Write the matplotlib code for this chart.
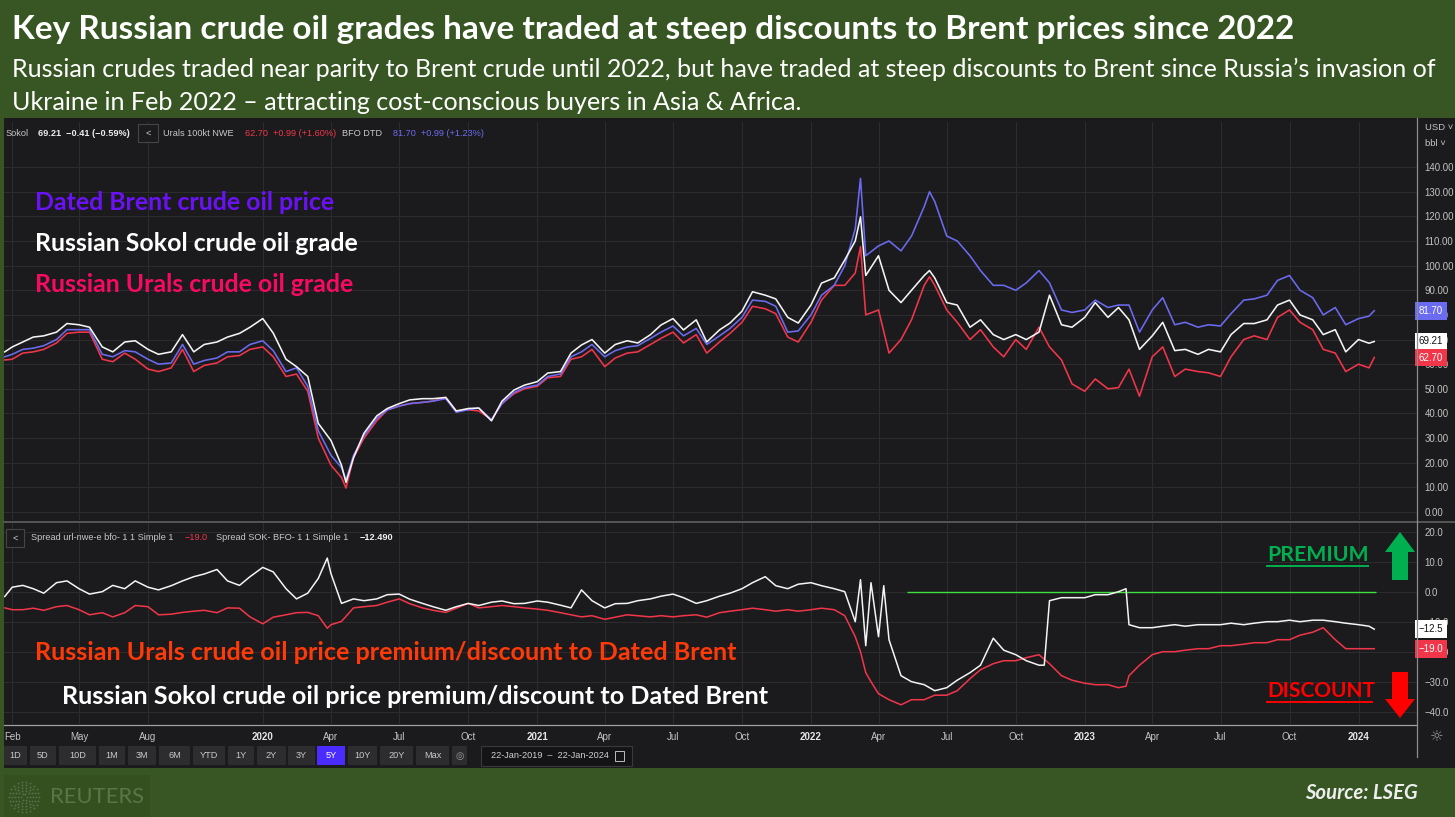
import matplotlib
matplotlib.use('Agg')
import matplotlib.pyplot as plt
import matplotlib.transforms as mtransforms
from matplotlib.patches import Rectangle, Polygon
from matplotlib.lines import Line2D
from matplotlib.ticker import FuncFormatter
import numpy as np
import pandas as pd

# ---- data ----
price_dates = [
    '2019-01-22', '2019-02-01', '2019-02-15', '2019-03-01', '2019-03-15', '2019-04-01', '2019-04-15', '2019-05-01', '2019-05-15', '2019-06-01',
    '2019-06-15', '2019-07-01', '2019-07-15', '2019-08-01', '2019-08-15', '2019-09-01', '2019-09-16', '2019-10-01', '2019-10-15', '2019-11-01',
    '2019-11-15', '2019-12-01', '2019-12-15', '2020-01-01', '2020-01-15', '2020-02-01', '2020-02-15', '2020-03-01', '2020-03-15', '2020-04-01',
    '2020-04-15', '2020-04-21', '2020-05-01', '2020-05-15', '2020-06-01', '2020-06-15', '2020-07-01', '2020-07-15', '2020-08-01', '2020-08-15',
    '2020-09-01', '2020-09-15', '2020-10-01', '2020-10-15', '2020-11-01', '2020-11-15', '2020-12-01', '2020-12-15', '2021-01-01', '2021-01-15',
    '2021-02-01', '2021-02-15', '2021-03-01', '2021-03-15', '2021-04-01', '2021-04-15', '2021-05-01', '2021-05-15', '2021-06-01', '2021-06-15',
    '2021-07-01', '2021-07-15', '2021-08-01', '2021-08-15', '2021-09-01', '2021-09-15', '2021-10-01', '2021-10-15', '2021-11-01', '2021-11-15',
    '2021-12-01', '2021-12-15', '2022-01-01', '2022-01-15', '2022-02-01', '2022-02-15', '2022-03-01', '2022-03-08', '2022-03-15', '2022-04-01',
    '2022-04-15', '2022-05-01', '2022-05-15', '2022-06-01', '2022-06-08', '2022-06-15', '2022-07-01', '2022-07-15', '2022-08-01', '2022-08-15',
    '2022-09-01', '2022-09-15', '2022-10-01', '2022-10-15', '2022-11-01', '2022-11-15', '2022-12-01', '2022-12-15', '2023-01-01', '2023-01-15',
    '2023-02-01', '2023-02-15', '2023-03-01', '2023-03-15', '2023-04-01', '2023-04-15', '2023-05-01', '2023-05-15', '2023-06-01', '2023-06-15',
    '2023-07-01', '2023-07-15', '2023-08-01', '2023-08-15', '2023-09-01', '2023-09-15', '2023-10-01', '2023-10-15', '2023-11-01', '2023-11-15',
    '2023-12-01', '2023-12-15', '2024-01-01', '2024-01-15', '2024-01-22',
]
brent = [
    63, 64, 66, 66.5, 67.5, 70, 74, 74, 74, 64,
    63, 65.5, 65, 62, 60, 60.5, 68, 60, 61.5, 62.5,
    65, 65, 68, 69.5, 65.5, 57, 58.5, 51, 33, 23,
    18, 13, 23, 31, 38, 41.4, 43, 44, 44.5, 45,
    46, 40.5, 41.5, 42.2, 37.5, 44, 48.5, 50.5, 51.5, 55,
    56, 63, 65, 68, 63, 65.5, 67, 67.5, 70.5, 73,
    75.5, 71.5, 74.5, 68, 71.5, 74.5, 79, 86, 85.5, 83.5,
    73, 73.5, 80, 88, 92, 100, 115, 135.4, 104, 108,
    110, 106, 112, 124, 130, 126, 112, 110, 104, 98,
    92, 92, 90, 93, 98, 93, 82, 81, 82, 86,
    83, 84, 84, 73, 82, 87, 76, 77, 75, 76,
    75.5, 80.5, 86, 86.5, 88, 94, 96, 90, 87, 80,
    83, 76, 78.5, 79.5, 81.7,
]
sokol = [
    65, 67, 69, 71, 71.5, 73, 76.5, 76, 75, 67,
    65, 69, 69.5, 66, 64, 65, 72, 65, 68, 69,
    71, 72.5, 75, 78.5, 72.6, 62, 59, 55, 36, 29,
    19, 12, 22, 32, 39, 42, 44, 45.5, 46, 46,
    46.5, 41, 42, 42.2, 37, 45, 49.5, 51.5, 52.9, 56.4,
    57, 64.5, 67.8, 70, 64.5, 68, 69.5, 68.6, 72, 75.9,
    78.5, 73.9, 78, 69, 73.9, 76.7, 81.5, 89.4, 88, 86.5,
    79, 76.7, 84, 92.9, 95, 102.3, 110, 119.8, 96, 104,
    90, 85, 90, 96, 98, 95, 85, 84, 75, 78,
    72, 70, 72, 70, 73, 88, 76, 75, 79, 85,
    79, 83, 78, 66, 71.5, 77, 65.5, 66, 64, 66,
    65, 72, 76.5, 76.5, 78, 84, 86, 80, 78, 72,
    74, 65, 70, 68.5, 69.21,
]
urals = [
    61.7, 62, 64.5, 65, 66, 68.6, 72.5, 73, 73, 62,
    61, 64.5, 62, 58, 57, 58.5, 66, 57, 59.5, 60.5,
    63, 63.5, 66, 67, 63, 55, 56, 49, 30, 19,
    14, 9.7, 22, 30, 37, 41.4, 43, 44, 44.5, 45,
    46.5, 41, 41.5, 41, 37.5, 44, 48, 50, 51, 54.5,
    55, 62, 63, 66, 59, 62.5, 64.5, 65, 68, 70.5,
    73, 68.6, 72, 64.5, 69, 72.5, 77, 83.5, 82.5, 80.5,
    71, 69, 77, 86, 92, 92, 97, 107.7, 80, 82,
    64.5, 70, 78, 92, 95.5, 92, 82, 77, 70, 74,
    67, 63, 70, 66, 75, 67, 61.7, 52, 49, 54,
    50, 50.5, 58, 47, 63, 67, 55, 58, 57, 56.5,
    55, 63, 70, 71.5, 70, 79, 82, 77, 74, 66,
    64.5, 57, 60, 58.5, 62.7,
]

spread_dates = [
    '2019-01-22', '2019-02-01', '2019-02-15', '2019-03-01', '2019-03-15', '2019-04-01', '2019-04-15', '2019-05-01', '2019-05-15', '2019-06-01',
    '2019-06-15', '2019-07-01', '2019-07-15', '2019-08-01', '2019-08-15', '2019-09-01', '2019-09-16', '2019-10-01', '2019-10-15', '2019-11-01',
    '2019-11-15', '2019-12-01', '2019-12-15', '2020-01-01', '2020-01-15', '2020-02-01', '2020-02-15', '2020-03-01', '2020-03-15', '2020-03-27',
    '2020-04-01', '2020-04-15', '2020-05-01', '2020-05-15', '2020-06-01', '2020-06-15', '2020-07-01', '2020-07-15', '2020-08-01', '2020-08-15',
    '2020-09-01', '2020-09-15', '2020-10-01', '2020-10-15', '2020-11-01', '2020-11-15', '2020-12-01', '2020-12-15', '2021-01-01', '2021-01-15',
    '2021-02-01', '2021-02-15', '2021-03-01', '2021-03-15', '2021-04-01', '2021-04-15', '2021-05-01', '2021-05-15', '2021-06-01', '2021-06-15',
    '2021-07-01', '2021-07-15', '2021-08-01', '2021-08-15', '2021-09-01', '2021-09-15', '2021-10-01', '2021-10-15', '2021-11-01', '2021-11-15',
    '2021-12-01', '2021-12-15', '2022-01-01', '2022-01-15', '2022-02-01', '2022-02-15', '2022-03-01', '2022-03-08', '2022-03-15', '2022-03-22',
    '2022-04-01', '2022-04-08', '2022-04-15', '2022-05-01', '2022-05-15', '2022-06-01', '2022-06-15', '2022-07-01', '2022-07-15', '2022-08-01',
    '2022-08-15', '2022-09-01', '2022-09-15', '2022-10-01', '2022-10-15', '2022-11-01', '2022-11-08', '2022-11-15', '2022-12-01', '2022-12-15',
    '2023-01-01', '2023-01-15', '2023-02-01', '2023-02-15', '2023-02-25', '2023-03-01', '2023-03-15', '2023-04-01', '2023-04-15', '2023-05-01',
    '2023-05-15', '2023-06-01', '2023-06-15', '2023-07-01', '2023-07-15', '2023-08-01', '2023-08-15', '2023-09-01', '2023-09-15', '2023-10-01',
    '2023-10-15', '2023-11-01', '2023-11-15', '2023-12-01', '2023-12-15', '2024-01-01', '2024-01-15', '2024-01-22',
]
sokol_spread = [
    -1.6, 1.5, 2.1, 1, -0.5, 3, 3.6, 1, -0.8, 0,
    2.1, 1, 3.6, 1.5, 0.6, 2, 3.6, 5, 5.9, 7.4,
    3.6, 2.1, 5, 8.1, 6.6, 1, -2.4, -0.5, 4.4, 11.2,
    6, -3.9, -2.4, -3, -2.4, -1, -0.8, -2.5, -3.9, -5,
    -6.2, -5, -3.9, -4.6, -3.5, -3.1, -4, -3.9, -3.1, -3.5,
    -4.5, -5.4, 0.6, -3, -5.4, -4, -3.9, -3, -2.4, -1.5,
    -0.8, -2, -3.9, -3, -1.5, -0.5, 1, 3, 5, 2,
    1, 2.5, 3, 2, 1, 0, -10, 4, -18, 3,
    -15, 2, -16, -28, -30, -31, -33, -32, -29.5, -27,
    -24.5, -15.5, -19.5, -21, -23, -24.5, -24.5, -3, -2, -2,
    -2, -1, -1, 0, 1, -11, -12, -12, -11.5, -11,
    -11.5, -11, -11, -11, -10.5, -11, -10.5, -10, -10, -9.5,
    -10, -9.5, -9.5, -10, -10.5, -11, -11.5, -12.49,
]
urals_spread = [
    -5.4, -6, -6, -5.5, -6.2, -5, -4.6, -6, -7.7, -7,
    -8.4, -7, -4.6, -5, -7.7, -7.5, -6.9, -6.5, -6.2, -7,
    -5.4, -5.5, -8.4, -10.7, -8.5, -7.7, -7, -6.9, -8, -12.2,
    -11, -9.9, -5.4, -5, -4.6, -3.5, -2.4, -4, -5.4, -6.2,
    -6.9, -5.5, -3.9, -5.4, -5, -4.6, -5, -5.4, -5.8, -6.2,
    -7, -7.7, -8.4, -8, -9.2, -8.5, -7.7, -8, -8.4, -8,
    -8.4, -8, -7.7, -8.5, -7, -6.5, -6, -5.5, -6, -6.5,
    -6, -6.5, -6, -5.5, -6, -8, -15, -20, -27, -30,
    -34, -35, -36, -37.7, -36, -36, -34.5, -34.5, -33, -29,
    -26, -24, -23, -23, -22, -21, -22.5, -24, -28, -29.5,
    -30.5, -31, -31, -32, -31.5, -28, -24.5, -21, -20, -20,
    -19.5, -19, -19, -18, -18, -17.5, -17, -17, -16, -16,
    -14.5, -13.5, -12, -16, -19, -19, -19, -19,
]
parity_from, parity_to = '2022-05-09', '2024-01-24'

tick_dates = ['2019-02-01', '2019-05-01', '2019-08-01', '2020-01-01', '2020-04-01', '2020-07-01', '2020-10-01',
              '2021-01-01', '2021-04-01', '2021-07-01', '2021-10-01', '2022-01-01', '2022-04-01', '2022-07-01',
              '2022-10-01', '2023-01-01', '2023-04-01', '2023-07-01', '2023-10-01', '2024-01-01']
tick_labels = ['Feb', 'May', 'Aug', '2020', 'Apr', 'Jul', 'Oct', '2021', 'Apr', 'Jul', 'Oct', '2022', 'Apr', 'Jul',
               'Oct', '2023', 'Apr', 'Jul', 'Oct', '2024']

# ---- style ----
W, H = 1455, 817
GREEN = '#375623'
DARK = '#1b1b1d'
GRID = '#2c2c2f'
BRENT_C = '#6b6bf2'
SOKOL_C = '#f4f4f4'
URALS_C = '#f2364a'
UI = ['Liberation Sans', 'DejaVu Sans']
plt.rcParams['font.family'] = ['Lato', 'DejaVu Sans']


def fx(px):
    return px / W


def fy(py):
    return 1 - py / H


fig = plt.figure(figsize=(W / 100, H / 100), dpi=100, facecolor=GREEN)
fig.add_artist(Rectangle((fx(4), fy(768)), (W - 4) / W, 650 / H, transform=fig.transFigure,
                         facecolor=DARK, edgecolor='none', zorder=0))

# title block
fig.text(fx(12), fy(29), 'Key Russian crude oil grades have traded at steep discounts to Brent prices since 2022',
         fontsize=24, weight='bold', color='white', va='center')
fig.text(fx(12), fy(69), 'Russian crudes traded near parity to Brent crude until 2022, but have traded at steep discounts to Brent since Russia\u2019s invasion of',
         fontsize=18.1, color='white', va='center')
fig.text(fx(12), fy(102), 'Ukraine in Feb 2022 \u2013 attracting cost-conscious buyers in Asia & Africa.',
         fontsize=18.1, color='white', va='center')

xmin, xmax = pd.Timestamp('2019-01-21'), pd.Timestamp('2024-03-19')
pd_dates = pd.to_datetime(price_dates)
sp_dates = pd.to_datetime(spread_dates)
ticks = pd.to_datetime(tick_dates)

ax1 = fig.add_axes([fx(4), fy(520), 1413 / W, 398 / H])
ax2 = fig.add_axes([fx(4), fy(724), 1413 / W, 202 / H])
for ax in (ax1, ax2):
    ax.set_facecolor(DARK)
    for s in ax.spines.values():
        s.set_visible(False)
    ax.set_xlim(xmin, xmax)
    ax.set_xticks(ticks)
    ax.grid(True, color=GRID, lw=0.8)
    ax.set_axisbelow(True)
    ax.yaxis.tick_right()
    ax.tick_params(length=0, labelsize=6.9, labelcolor='#c4c4c4', pad=5.5)

# price panel
ax1.plot(pd_dates, urals, color=URALS_C, lw=1.15, zorder=3)
ax1.plot(pd_dates, brent, color=BRENT_C, lw=1.15, zorder=4)
ax1.plot(pd_dates, sokol, color=SOKOL_C, lw=1.15, zorder=5)
ax1.set_ylim(-3.25, 158.3)
ax1.set_yticks(np.arange(0, 150, 10))
ax1.yaxis.set_major_formatter(FuncFormatter(lambda v, p: f'{v:.2f}'))
ax1.set_xticklabels([])

# spread panel
ax2.plot(sp_dates, urals_spread, color=URALS_C, lw=1.1, zorder=3)
ax2.plot(sp_dates, sokol_spread, color=SOKOL_C, lw=1.1, zorder=4)
ax2.hlines(0, pd.Timestamp(parity_from), pd.Timestamp(parity_to), color='#3fe03f', lw=1, zorder=2)
ax2.set_ylim(-44.1, 23.23)
ax2.set_yticks(np.arange(-40, 21, 10))
ax2.yaxis.set_major_formatter(FuncFormatter(lambda v, p: f'{v:.1f}'.replace('-', '\u2212')))
ax2.set_xticklabels(tick_labels)
ax2.tick_params(axis='x', pad=6, labelsize=7)
for lab in ax2.get_xticklabels():
    lab.set_fontfamily(UI)
    if lab.get_text().isdigit():
        lab.set_color('#e6e6e6')
        lab.set_fontweight('bold')
for ax in (ax1, ax2):
    for lab in ax.get_yticklabels():
        lab.set_fontfamily(UI)


# value badges on the right scale
def badge(ax, yval, text, fc, tc):
    tr = mtransforms.blended_transform_factory(ax.transAxes, ax.transData)
    ax.text(1.0012, yval, text, transform=tr, fontsize=7, family=UI, color=tc, va='center', ha='left',
            bbox=dict(boxstyle='square,pad=0.4', fc=fc, ec='none'), clip_on=False, zorder=10)


badge(ax1, brent[-1], f'{brent[-1]:.2f}', BRENT_C, 'white')
badge(ax1, sokol[-1], f'{sokol[-1]:.2f}', 'white', '#111111')
badge(ax1, urals[-1], f'{urals[-1]:.2f}', URALS_C, 'white')
badge(ax2, sokol_spread[-1], f'{sokol_spread[-1]:.1f}'.replace('-', '\u2212'), 'white', '#111111')
badge(ax2, urals_spread[-1], f'{urals_spread[-1]:.1f}'.replace('-', '\u2212'), URALS_C, 'white')

# frame lines
fig.add_artist(Line2D([fx(4), fx(W)], [fy(521.5)] * 2, color='#5a5a5a', lw=1.3, transform=fig.transFigure))
fig.add_artist(Line2D([fx(4), fx(1417)], [fy(725)] * 2, color='#a0a0a0', lw=0.9, transform=fig.transFigure))
fig.add_artist(Line2D([fx(1417)] * 2, [fy(118), fy(757)], color='#8c8c8c', lw=0.9, transform=fig.transFigure))

fig.text(fx(1425), fy(128), 'USD \u02c5', fontsize=6.8, color='#c4c4c4', family=UI, va='center')
fig.text(fx(1425), fy(143), 'bbl \u02c5', fontsize=6.8, color='#c4c4c4', family=UI, va='center')
fig.text(fx(1437), fy(737), '\u263c', fontsize=11, color='#9a9a9a', family='DejaVu Sans', va='center', ha='center')


# header rows
def box(x0, y0, x1, y1, fc, ec='none', lw=0.8):
    fig.add_artist(Rectangle((fx(x0), fy(y1)), (x1 - x0) / W, (y1 - y0) / H, transform=fig.transFigure,
                             facecolor=fc, edgecolor=ec, lw=lw, zorder=5))


def ui_text(x, y, s, color='#c8c8c8', size=6.6, **kw):
    fig.text(fx(x), fy(y), s, fontsize=size, color=color, family=UI, va='center', zorder=6, **kw)


ui_text(6, 133, 'Sokol')
ui_text(38, 133, '69.21  \u22120.41 (\u22120.59%)', color='#ececec', weight='bold')
box(138, 124, 158, 142, DARK, '#454545')
ui_text(148, 133, '<', color='#d0d0d0', ha='center')
ui_text(163, 133, 'Urals 100kt NWE')
ui_text(245, 133, '62.70  +0.99 (+1.60%)', color=URALS_C)
ui_text(342, 133, 'BFO DTD')
ui_text(393, 133, '81.70  +0.99 (+1.23%)', color=BRENT_C)

box(6, 529, 24, 547, DARK, '#454545')
ui_text(15, 538, '<', color='#d0d0d0', ha='center')
ui_text(31, 538, 'Spread url-nwe-e bfo- 1 1 Simple 1')
ui_text(185, 538, '\u221219.0', color=URALS_C)
ui_text(216, 538, 'Spread SOK- BFO- 1 1 Simple 1')
ui_text(360, 538, '\u221212.490', color='#f0f0f0', weight='bold')

# series labels
fig.text(fx(35), fy(202), 'Dated Brent crude oil price', fontsize=17.9, weight='bold', color='#6a12f5', va='center')
fig.text(fx(35), fy(243), 'Russian Sokol crude oil grade', fontsize=17.9, weight='bold', color='white', va='center')
fig.text(fx(35), fy(284), 'Russian Urals crude oil grade', fontsize=17.9, weight='bold', color='#f80a62', va='center')
fig.text(fx(35), fy(652), 'Russian Urals crude oil price premium/discount to Dated Brent', fontsize=18.1,
         weight='bold', color='#ff3a08', va='center')
fig.text(fx(62), fy(697), 'Russian Sokol crude oil price premium/discount to Dated Brent', fontsize=18.1,
         weight='bold', color='white', va='center')

fig.text(fx(1267), fy(555), 'PREMIUM', fontsize=15.3, weight='bold', color='#00b050', va='center')
fig.add_artist(Line2D([fx(1267), fx(1368)], [fy(566)] * 2, color='#00b050', lw=1.4, transform=fig.transFigure))
fig.text(fx(1267), fy(691), 'DISCOUNT', fontsize=15, weight='bold', color='#ff0000', va='center')
fig.add_artist(Line2D([fx(1267), fx(1372)], [fy(702)] * 2, color='#ff0000', lw=1.4, transform=fig.transFigure))

up = [(1392, 580), (1392, 552), (1385, 552), (1400, 532), (1415, 552), (1408, 552), (1408, 580)]
down = [(1392, 672), (1392, 699), (1385, 699), (1400, 718), (1415, 699), (1408, 699), (1408, 672)]
fig.add_artist(Polygon([(fx(a), fy(b)) for a, b in up], closed=True, transform=fig.transFigure,
                       facecolor='#00b050', edgecolor='none', zorder=6))
fig.add_artist(Polygon([(fx(a), fy(b)) for a, b in down], closed=True, transform=fig.transFigure,
                       facecolor='#ff0000', edgecolor='none', zorder=6))

# toolbar
buttons = [('1D', 4, 27), ('5D', 30, 56), ('10D', 59, 96), ('1M', 99, 125), ('3M', 128, 156), ('6M', 159, 190),
           ('YTD', 193, 225), ('1Y', 228, 254), ('2Y', 257, 286), ('3Y', 288, 315), ('5Y', 317, 345),
           ('10Y', 348, 377), ('20Y', 380, 413), ('Max', 416, 449)]
for lab, a, b in buttons:
    active = lab == '5Y'
    box(a, 746, b, 765, '#4b2cff' if active else '#2d2d30')
    ui_text((a + b) / 2, 755.5, lab, color='white' if active else '#c8c8c8', size=6.6, ha='center')
box(452, 746, 467, 765, '#2d2d30')
ui_text(459.5, 755.5, '\u25ce', color='#9a9a9a', size=7, ha='center')
box(481, 746, 632, 766, '#141416', '#3a3a3a')
ui_text(491, 756, '22-Jan-2019  \u2013  22-Jan-2024', color='#d0d0d0', size=6.6)
box(615, 751, 624, 761, 'none', '#bdbdbd', 0.7)

# footer
fig.add_artist(Rectangle((fx(4), 0), 146 / W, (817 - 775) / H, transform=fig.transFigure,
                         facecolor='#34501f', edgecolor='none', zorder=1))
for r, n in [(3, 6), (6, 10), (9, 14), (12, 18), (15, 22)]:
    ang = np.linspace(0, 2 * np.pi, n, endpoint=False)
    fig.add_artist(Line2D(fx(24 + r * np.cos(ang)), fy(797 + r * np.sin(ang)), ls='none', marker='o',
                          ms=1.4, mec='none', mfc='#56704a', transform=fig.transFigure, zorder=2))
fig.text(fx(50), fy(797), 'REUTERS', fontsize=15.8, color='#5a7548', va='center', zorder=2)
fig.text(fx(1418), fy(793), 'Source: LSEG', fontsize=14.6, weight='bold', style='italic', color='#eeeeee',
         va='center', ha='right')

fig.savefig('out.png', dpi=100, facecolor=GREEN)
